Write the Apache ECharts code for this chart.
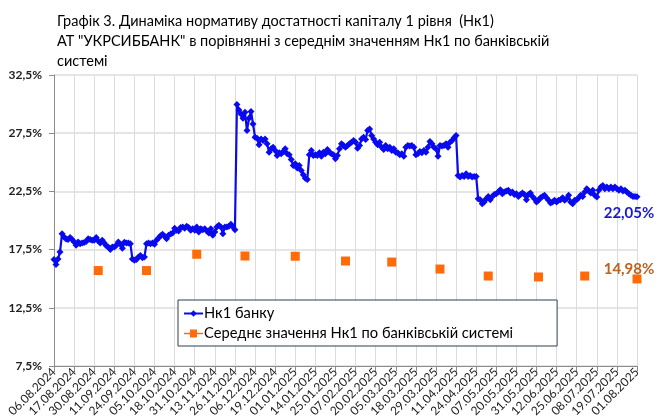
<!doctype html>
<html lang="uk">
<head>
<meta charset="utf-8">
<script src="https://cdn.jsdelivr.net/npm/echarts@6/dist/echarts.min.js"></script>
<style>
  html, body { margin: 0; padding: 0; background: #fff; }
  #main { width: 668px; height: 416px; }
</style>
</head>
<body>
<div id="main"></div>
<script>
// tick labels on the x axis (one per grid column)
var tickLabels = ['06.08.2024', '17.08.2024', '30.08.2024', '11.09.2024', '24.09.2024', '05.10.2024',
  '18.10.2024', '31.10.2024', '13.11.2024', '26.11.2024', '06.12.2024', '19.12.2024', '01.01.2025',
  '14.01.2025', '25.01.2025', '07.02.2025', '20.02.2025', '05.03.2025', '18.03.2025', '29.03.2025',
  '11.04.2025', '24.04.2025', '07.05.2025', '20.05.2025', '31.05.2025', '12.06.2025', '25.06.2025',
  '08.07.2025', '19.07.2025', '01.08.2025'];

// Нк1 банку, 10 readings between neighbouring tick labels
var pointsPerTick = 10;
var bankNk1 = [
  16.64, 16.21, 16.7, 17.3, 18.87, 18.59, 18.4, 18.36, 18.53, 18.36,
  18.16, 17.87, 18.16, 18.0, 18.07, 18.1, 18.19, 18.44, 18.36, 18.3,
  18.3, 18.53, 18.24, 18.07, 18.3, 18.07, 17.84, 17.73, 17.5, 17.73,
  17.73, 17.87, 18.16, 17.96, 17.61, 18.13, 18.07, 18.07, 18.0, 16.7,
  16.59, 16.64, 16.87, 16.99, 16.81, 16.87, 18.0, 18.07, 18.0, 18.07,
  17.96, 18.3, 18.5, 18.7, 18.81, 18.64, 18.44, 18.73, 18.85, 18.93,
  19.33, 19.16, 19.1, 19.4, 19.44, 19.33, 19.5, 19.39, 19.16, 19.3,
  19.16, 19.44, 19.01, 19.3, 19.2, 19.3, 19.1, 18.93, 19.3, 18.73,
  19.01, 19.44, 19.59, 19.45, 18.87, 19.44, 19.45, 19.5, 19.67, 19.44,
  19.21, 29.96, 29.5, 29.16, 28.79, 29.3, 27.73, 28.79, 29.36, 28.3,
  27.16, 27.07, 26.5, 27.01, 26.87, 27.01, 26.59, 25.87, 26.16, 26.3,
  26.01, 25.59, 25.81, 25.73, 25.93, 26.16, 25.73, 25.64, 25.24, 24.73,
  24.87, 24.5, 24.73, 24.3, 23.93, 23.64, 23.53, 25.64, 26.01, 25.59,
  25.64, 25.59, 25.81, 25.53, 25.87, 25.73, 26.1, 25.87, 25.73, 25.64,
  25.3, 25.59, 26.16, 26.59, 26.44, 26.3, 26.44, 26.59, 26.73, 26.87,
  26.73, 26.21, 26.44, 27.01, 27.16, 26.96, 27.73, 27.87, 27.3, 27.01,
  26.73, 26.5, 26.73, 26.3, 26.1, 26.44, 26.16, 26.3, 26.01, 26.16,
  25.87, 25.81, 25.64, 25.73, 25.53, 26.3, 26.44, 26.39, 26.44, 26.3,
  25.64, 25.73, 25.93, 25.81, 26.01, 25.87, 26.3, 26.79, 26.59, 26.3,
  26.16, 25.53, 26.44, 26.39, 26.44, 26.59, 26.3, 26.73, 26.87, 27.1,
  27.3, 23.87, 23.73, 23.87, 23.79, 24.01, 23.79, 23.87, 23.73, 23.79,
  23.79, 21.87, 21.79, 21.44, 21.59, 21.87, 22.07, 21.79, 22.07, 22.24,
  22.3, 22.44, 22.64, 22.3, 22.44, 22.53, 22.59, 22.36, 22.44, 22.24,
  22.3, 22.07, 22.24, 22.36, 22.24, 21.79, 22.24, 22.36, 22.07, 21.87,
  21.59, 21.73, 21.96, 22.07, 22.16, 21.96, 21.73, 21.5, 21.59, 21.73,
  21.59, 21.73, 21.79, 21.96, 21.73, 21.87, 22.16, 21.59, 21.44, 21.73,
  21.79, 21.96, 22.16, 22.07, 22.44, 22.73, 22.53, 22.36, 22.59, 22.16,
  22.01, 22.59, 22.87, 23.01, 22.73, 22.87, 22.73, 22.87, 22.73, 22.87,
  22.73, 22.59, 22.73, 22.53, 22.59, 22.44, 22.3, 22.16, 22.07, 22.07,
  22.05
];

// Середнє значення Нк1 по банківській системі (1st day of each month)
var avgPos = [2.2, 4.6, 7.1, 9.5, 12.0, 14.5, 16.8, 19.2, 21.6, 24.1, 26.4, 29.0];
var avgValues = [15.7, 15.7, 17.1, 16.95, 16.93, 16.52, 16.43, 15.83, 15.23, 15.15, 15.23, 14.98];

var FONT = 'Lato';
var BLUE = '#0A0AF0';
var ORANGE = '#FF6A0A';

function pct(v, d) {
  return v.toFixed(d).replace('.', ',') + '%';
}

var bankData = bankNk1.map(function (v, i) {
  return [i / pointsPerTick, v];
});
var last = bankData.length - 1;
bankData[last] = {
  value: bankData[last],
  label: {
    show: true, position: 'bottom', offset: [-8, 1],
    formatter: function (p) { return pct(p.value[1], 2); },
    color: '#1A1ACC', fontWeight: 'bold', fontSize: 15, fontFamily: FONT
  }
};

var avgData = avgValues.map(function (v, i) {
  return [avgPos[i], v];
});
var lastA = avgData.length - 1;
avgData[lastA] = {
  value: avgData[lastA],
  label: {
    show: true, position: 'top', offset: [-8, 7],
    formatter: function (p) { return pct(p.value[1], 2); },
    color: '#C0601A', fontWeight: 'bold', fontSize: 15, fontFamily: FONT
  }
};

var chart = echarts.init(document.getElementById('main'));
chart.setOption({
  animation: false,
  backgroundColor: '#fff',
  textStyle: { fontFamily: FONT },
  title: {
    text: 'Графік 3. Динаміка нормативу достатності капіталу 1 рівня  (Нк1)\n' +
      'АТ "УКРСИББАНК" в порівнянні з середнім значенням Нк1 по банківській\nсистемі',
    left: 52,
    top: 6,
    textStyle: { fontFamily: FONT, fontSize: 14.5, fontWeight: 'normal', color: '#000', lineHeight: 20 }
  },
  grid: { left: 54, right: 31, top: 75, bottom: 50, outerBoundsMode: 'none' },
  legend: {
    orient: 'vertical',
    left: 178,
    top: 300,
    padding: [6, 44, 5, 5],
    itemGap: 5,
    itemWidth: 19,
    itemHeight: 8,
    backgroundColor: '#fff',
    borderColor: '#2E3D50',
    borderWidth: 1,
    textStyle: { fontFamily: FONT, fontSize: 14.7, color: '#000', padding: [0, 0, 0, -4] },
    data: [
      { name: 'Нк1 банку' },
      {
        name: 'Середнє значення Нк1 по банківській системі',
        icon: 'path://M0,3.2h6v-3.2h7v3.2h6v1.6h-6v3.2h-7v-3.2h-6z',
        itemStyle: { color: ORANGE }
      }
    ]
  },
  xAxis: {
    type: 'value',
    min: 0,
    max: 29,
    interval: 1,
    axisLine: { show: true, lineStyle: { color: '#8c8c8c' } },
    axisTick: { show: true, length: 5, lineStyle: { color: '#8c8c8c' } },
    splitLine: { show: true, lineStyle: { color: '#dcdcdc' } },
    axisLabel: {
      rotate: 45,
      margin: 4,
      fontSize: 12,
      color: '#222',
      fontFamily: FONT,
      formatter: function (v) { return tickLabels[v] || ''; }
    }
  },
  yAxis: {
    type: 'value',
    min: 7.5,
    max: 32.5,
    interval: 5,
    axisLine: { show: true, lineStyle: { color: '#8c8c8c' } },
    axisTick: { show: true, length: 5, lineStyle: { color: '#8c8c8c' } },
    splitLine: { show: true, lineStyle: { color: '#dcdcdc', width: 1.5 } },
    axisLabel: {
      margin: 12,
      fontSize: 12,
      fontWeight: 'bold',
      color: '#222',
      fontFamily: FONT,
      formatter: function (v) { return pct(v, 1); }
    }
  },
  series: [
    {
      name: 'Нк1 банку',
      type: 'line',
      data: bankData,
      symbol: 'diamond',
      symbolSize: 7,
      showAllSymbol: true,
      color: BLUE,
      lineStyle: { color: BLUE, width: 2.2 },
      itemStyle: { color: BLUE },
      z: 3
    },
    {
      name: 'Середнє значення Нк1 по банківській системі',
      type: 'line',
      data: avgData,
      symbol: 'rect',
      symbolSize: 9,
      color: ORANGE,
      lineStyle: { width: 0, color: ORANGE },
      itemStyle: { color: ORANGE },
      z: 4
    }
  ]
});
</script>
</body>
</html>
